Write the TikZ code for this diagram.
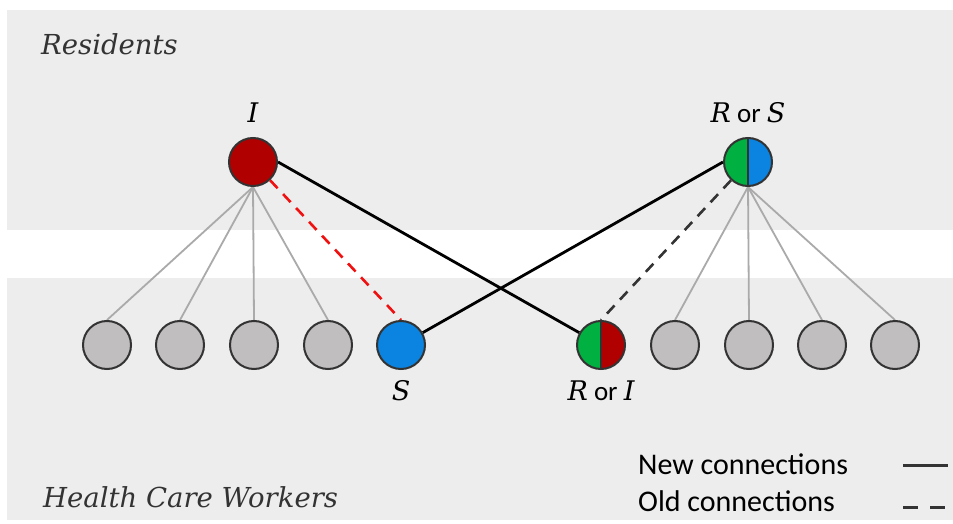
\documentclass[tikz,border=0pt]{standalone}
\usepackage{fontspec}
\newfontfamily\lblfont{DejaVu Serif}
\newfontfamily\calfont{Carlito}
\pgfdeclarelayer{bg}
\pgfdeclarelayer{lines}
\pgfsetlayers{bg,lines,main}
\definecolor{band}{HTML}{EDEDED}
\definecolor{nred}{HTML}{B00000}
\definecolor{nblue}{HTML}{0A84E0}
\definecolor{ngreen}{HTML}{00B040}
\definecolor{ngray}{HTML}{C0BEBF}
\definecolor{edge}{HTML}{333333}
\definecolor{glink}{HTML}{AAAAAA}
\definecolor{dred}{HTML}{F01010}
\tikzset{
  circ/.style={circle, draw=edge, line width=2pt, minimum size=48pt, inner sep=0pt},
  graynode/.style={circ, fill=ngray},
  half/.style 2 args={circ, path picture={
    \fill[#1] (path picture bounding box.south west) rectangle (path picture bounding box.north);
    \fill[#2] (path picture bounding box.north) rectangle (path picture bounding box.south east);
    \draw[edge, line width=1.8pt] (path picture bounding box.north) -- (path picture bounding box.south);}},
  glinkst/.style={glink, line width=1.8pt},
  newlink/.style={black, line width=2.8pt},
  oldlink/.style={edge, line width=2.6pt, dash pattern=on 11pt off 8pt},
  redlink/.style={dred, line width=2.6pt, dash pattern=on 11pt off 8pt},
  grouplbl/.style={font=\lblfont\itshape\fontsize{27.5}{32}\selectfont, text=edge, anchor=base west, inner sep=0pt},
  statelbl/.style={font=\lblfont\itshape\fontsize{27}{32}\selectfont, inner sep=0pt, anchor=base},
  legendlbl/.style={font=\calfont\fontsize{30}{34}\selectfont, anchor=base west, inner sep=0pt}
}
\begin{document}
\begin{tikzpicture}[x=1pt,y=-1pt]
\useasboundingbox (0,0) rectangle (953,524);
\begin{pgfonlayer}{bg}
  \fill[white] (0,0) rectangle (953,524);
  \fill[band] (7,10) rectangle (953,230);
  \fill[band] (7,278) rectangle (953,520);
\end{pgfonlayer}

\node[grouplbl] (res) at (41,55) {Residents};
\node[grouplbl] (hcw) at (43,507) {Health Care Workers};

% resident nodes
\node[circ, fill=nred] (I) at (253,162) {};
\node[half={ngreen}{nblue}] (RS) at (748,162) {};
\node[statelbl] (lI) at (253,123) {I};
\node[statelbl] (lRS) at (748,123) {R{\calfont\upshape\ or }S};

% worker nodes
\node[graynode] (w1) at (107,345) {};
\node[graynode] (w2) at (180,345) {};
\node[graynode] (w3) at (254,345) {};
\node[graynode] (w4) at (328,345) {};
\node[circ, fill=nblue] (S) at (401,345) {};
\node[half={ngreen}{nred}] (RI) at (601,345) {};
\node[graynode] (w5) at (675,345) {};
\node[graynode] (w6) at (749,345) {};
\node[graynode] (w7) at (822,345) {};
\node[graynode] (w8) at (895,345) {};
\node[statelbl] (lS) at (401,400) {S};
\node[statelbl] (lRI) at (601,400) {R{\calfont\upshape\ or }I};

\begin{pgfonlayer}{lines}
  \foreach \w in {w1,w2,w3,w4} \draw[glinkst] (I.south) -- (\w.north);
  \foreach \w in {w5,w6,w7,w8} \draw[glinkst] (RS.south) -- (\w.north);
  \draw[redlink] (I) -- (S.north);
  \draw[oldlink] (RS) -- (RI.north);
  \draw[newlink] (I.east) -- (RI);
  \draw[newlink] (RS.west) -- (S);
\end{pgfonlayer}

% legend
\node[legendlbl] (lnew) at (638,474) {New connections};
\node[legendlbl] (lold) at (638,511) {Old connections};
\coordinate (n1) at (903,465);
\coordinate (n2) at (948,465);
\coordinate (o1) at (903,507);
\coordinate (o2) at (948,507);
\draw[edge, line width=3pt] (n1) -- (n2);
\draw[edge, line width=3pt, dash pattern=on 15pt off 12pt] (o1) -- (o2);
\end{tikzpicture}
\end{document}
